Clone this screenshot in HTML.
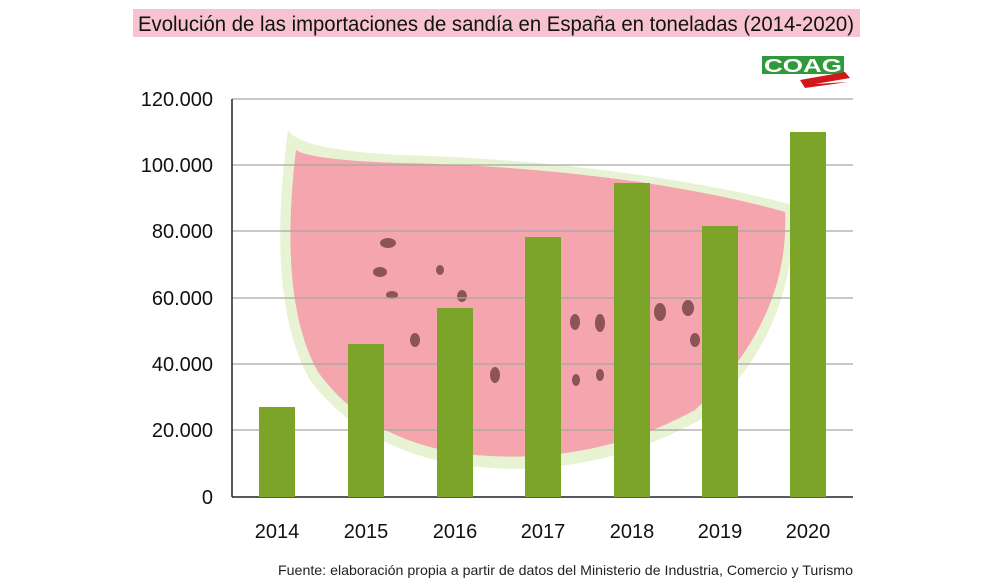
<!DOCTYPE html>
<html><head><meta charset="utf-8"><style>
body{margin:0;background:#fff;width:1000px;height:588px;overflow:hidden;font-family:"Liberation Sans",sans-serif}
</style></head><body>
<svg width="1000" height="588" xmlns="http://www.w3.org/2000/svg" style="position:absolute;left:0;top:0">
<rect x="133" y="9" width="727" height="28" fill="#f7c3d0"/>
<text x="496" y="31" text-anchor="middle" font-size="21" fill="#111" font-family="Liberation Sans" textLength="716" lengthAdjust="spacingAndGlyphs">Evolución de las importaciones de sandía en España en toneladas (2014-2020)</text>
<rect x="762" y="56" width="82" height="18" fill="#2e9a3c"/>
<text x="803" y="72" text-anchor="middle" font-size="18" font-weight="bold" fill="#fff" font-family="Liberation Sans" textLength="78" lengthAdjust="spacingAndGlyphs">COAG</text>
<path d="M800 80 L845 72 L850 78 L815 84 L848 82 L805 88 Z" fill="#d01818"/>
<path d="M288 130 Q300 150 400 155 Q520 158 640 175 Q740 190 792 205 Q800 330 700 420 Q600 475 490 468 Q370 460 310 380 Q265 300 288 130 Z" fill="#e7f3d2"/>
<path d="M296 150 Q310 160 400 163 Q520 165 640 182 Q730 196 785 212 Q790 320 695 410 Q600 462 490 456 Q375 450 318 372 Q278 300 296 150 Z" fill="#f4a5ae"/>
<g fill="#6a3a3a" opacity="0.75">
<ellipse cx="388" cy="243" rx="8" ry="5"/><ellipse cx="380" cy="272" rx="7" ry="5"/><ellipse cx="392" cy="295" rx="6" ry="4"/>
<ellipse cx="415" cy="340" rx="5" ry="7"/><ellipse cx="495" cy="375" rx="5" ry="8"/><ellipse cx="575" cy="322" rx="5" ry="8"/>
<ellipse cx="600" cy="323" rx="5" ry="9"/><ellipse cx="660" cy="312" rx="6" ry="9"/><ellipse cx="688" cy="308" rx="6" ry="8"/>
<ellipse cx="462" cy="296" rx="5" ry="6"/><ellipse cx="440" cy="270" rx="4" ry="5"/><ellipse cx="695" cy="340" rx="5" ry="7"/>
<ellipse cx="576" cy="380" rx="4" ry="6"/><ellipse cx="600" cy="375" rx="4" ry="6"/>
</g>
<g stroke="#a6a6a6" stroke-width="1.2">
<line x1="232" y1="99" x2="853" y2="99"/><line x1="232" y1="165" x2="853" y2="165"/><line x1="232" y1="231" x2="853" y2="231"/>
<line x1="232" y1="298" x2="853" y2="298"/><line x1="232" y1="364" x2="853" y2="364"/><line x1="232" y1="430" x2="853" y2="430"/>
</g>
<line x1="232" y1="99" x2="232" y2="497" stroke="#222" stroke-width="1.5"/>
<line x1="232" y1="497" x2="853" y2="497" stroke="#222" stroke-width="1.5"/>
<g fill="#7ba428">
<rect x="259" y="407" width="36" height="90"/>
<rect x="348" y="344" width="36" height="153"/>
<rect x="437" y="308" width="36" height="189"/>
<rect x="525" y="237" width="36" height="260"/>
<rect x="614" y="183" width="36" height="314"/>
<rect x="702" y="226" width="36" height="271"/>
<rect x="790" y="132" width="36" height="365"/>
</g>
<g font-size="20" fill="#111" text-anchor="end" font-family="Liberation Sans">
<text x="213" y="106">120.000</text><text x="213" y="172">100.000</text><text x="213" y="238">80.000</text>
<text x="213" y="305">60.000</text><text x="213" y="371">40.000</text><text x="213" y="437">20.000</text><text x="213" y="504">0</text>
</g>
<g font-size="20" fill="#111" text-anchor="middle" font-family="Liberation Sans">
<text x="277" y="538">2014</text><text x="366" y="538">2015</text><text x="455" y="538">2016</text><text x="543" y="538">2017</text>
<text x="632" y="538">2018</text><text x="720" y="538">2019</text><text x="808" y="538">2020</text>
</g>
<text x="853" y="575" text-anchor="end" font-size="14" fill="#222" font-family="Liberation Sans" textLength="575" lengthAdjust="spacingAndGlyphs">Fuente: elaboración propia a partir de datos del Ministerio de Industria, Comercio y Turismo</text>
</svg>
</body></html>
